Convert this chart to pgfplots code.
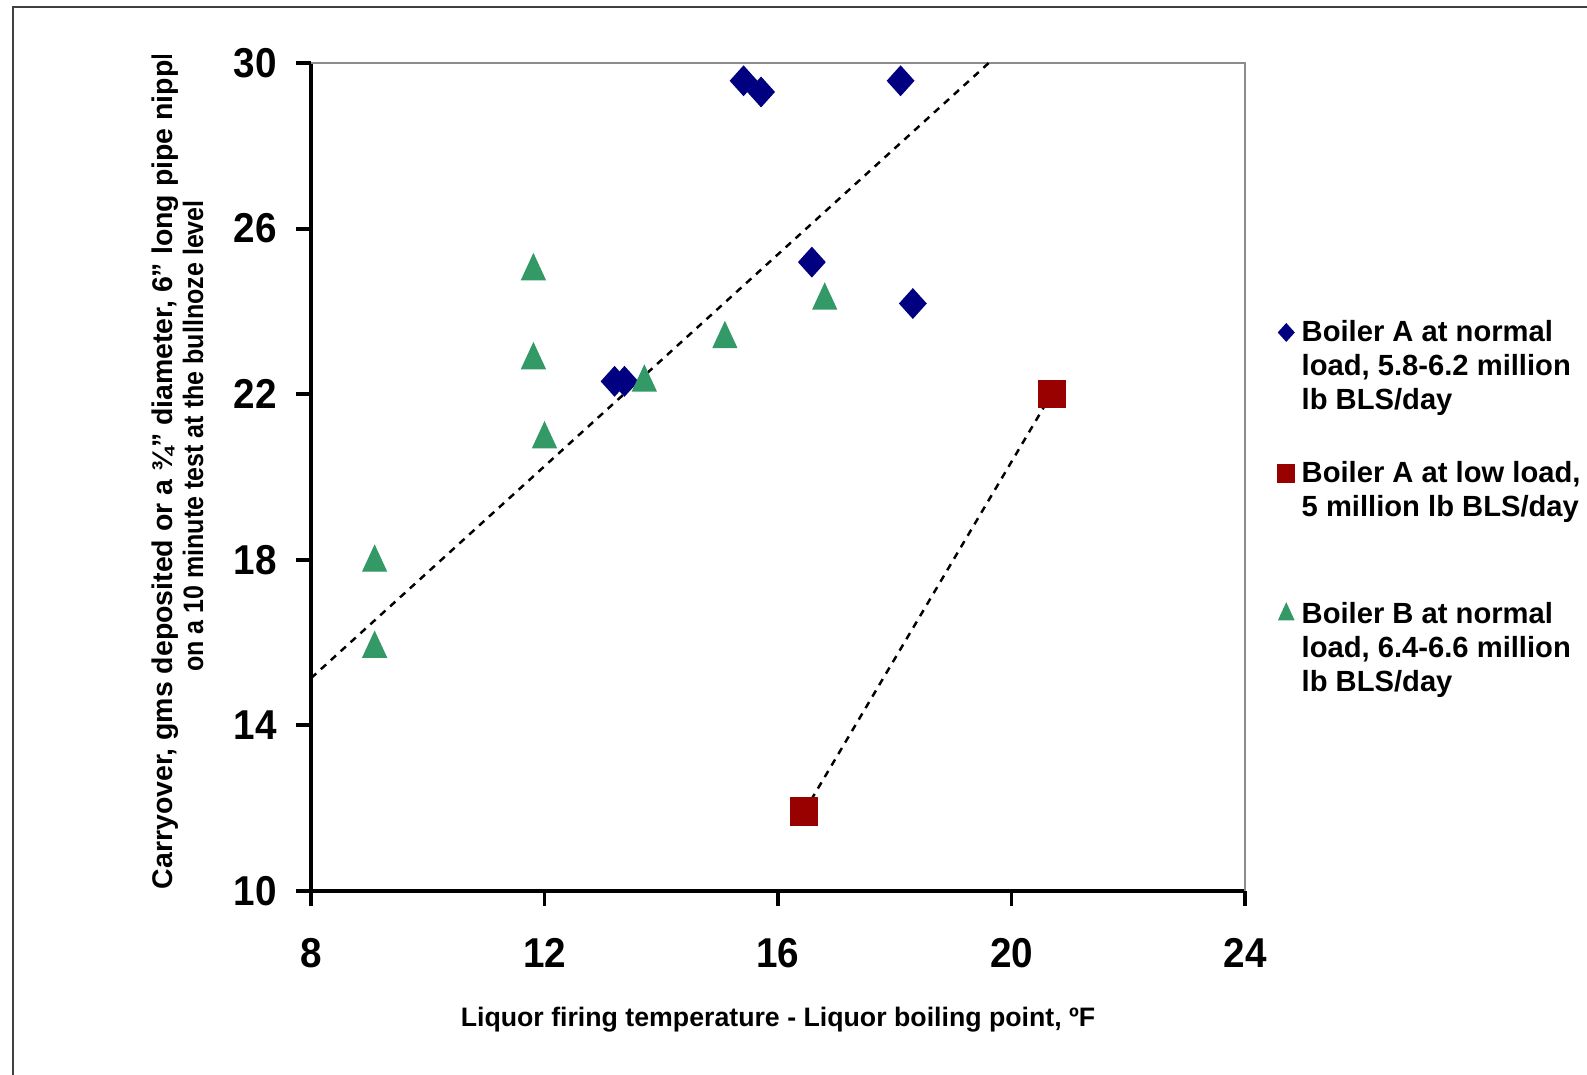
\documentclass[border=0pt]{standalone}
\usepackage{pgfplots}
\pgfplotsset{compat=1.18}
\usepackage{fontspec}
\setmainfont{Liberation Sans}
\definecolor{bluA}{RGB}{0,0,128}
\definecolor{redA}{RGB}{153,0,0}
\definecolor{grnB}{RGB}{51,153,102}

\begin{document}
\begin{tikzpicture}[x=1cm,y=1cm]
\useasboundingbox (0,0) rectangle (15.87,10.75);
\draw[line width=0.7pt, black!75] (0.13,0) -- (0.13,10.68) -- (15.87,10.68);
\begin{axis}[
  at={(3.11cm,1.84cm)}, anchor=south west,
  width=9.34cm, height=8.28cm, scale only axis,
  xmin=8, xmax=24, ymin=10, ymax=30,
  xtick={8,12,16,20,24}, ytick={10,14,18,22,26,30},
  axis x line*=bottom, axis y line*=left,
  axis line style={line width=1.3pt, black},
  tick style={line width=1.1pt, black},
  major tick length=0.15cm, tick align=outside,
  ticklabel style={font=\fontsize{11}{13}\selectfont\bfseries, yscale=1.08},
  xticklabel style={yshift=-5pt},
  yticklabel style={xshift=-2pt},
  /pgf/number format/assume math mode=true,
  xlabel={Liquor firing temperature - Liquor boiling point, ºF},
  xlabel style={at={(axis description cs:0.5,0)}, anchor=center, yshift=-1.29cm, font=\fontsize{7.6}{9}\selectfont\bfseries},
  clip=false,
  legend style={at={(1.0344,0.699)}, anchor=north west, draw=none, fill=none,
    font=\fontsize{8.3}{9.8}\selectfont\bfseries, row sep=9pt, column sep=0pt, inner sep=0pt,
    cells={anchor=west, align=left}},
  legend image code/.code={\draw[mark repeat=2,mark phase=2,#1] plot coordinates {(0cm,0cm) (0.1cm,0cm) (0.2cm,0cm)};},
  legend image post style={yshift=10pt, mark size=2.4pt},
]
\draw[black!45, line width=0.7pt] (rel axis cs:0,1) -- (rel axis cs:1,1) -- (rel axis cs:1,0);
\addplot[black, line width=0.7pt, dash pattern=on 2pt off 1.8pt, forget plot] coordinates {(8,15.14) (19.61,30)};
\addplot[black, line width=0.7pt, dash pattern=on 2pt off 1.8pt, forget plot] coordinates {(16.45,11.92) (20.69,22.01)};
\addplot[only marks, mark=diamond*, mark size=4.1pt, color=bluA, mark options={xscale=1.2, fill=bluA, draw=bluA}] coordinates {
(15.41,29.57) (15.71,29.30) (18.10,29.57) (16.58,25.19) (18.31,24.19) (13.20,22.31) (13.37,22.31)};
\addlegendentry{Boiler A at normal\\load, 5.8-6.2 million\\lb BLS/day}
\addplot[only marks, mark=square*, mark size=3.8pt, color=redA, mark options={fill=redA, draw=redA}] coordinates {
(20.69,22.01) (16.45,11.92)};
\addlegendentry{Boiler A at low load,\\5 million lb BLS/day\\\strut}
\addplot[only marks, mark=triangle*, mark size=3.8pt, color=grnB, mark options={yscale=1.25, fill=grnB, draw=grnB}] coordinates {
(11.81,24.97) (11.81,22.82) (12.00,20.91) (9.09,17.93) (9.09,15.85) (13.71,22.28) (15.09,23.33) (16.80,24.26)};
\addlegendentry{Boiler B at normal\\load, 6.4-6.6 million\\lb BLS/day}
\end{axis}
\begin{scope}
\clip (0,0) rectangle (15.87,10.19);
\node[rotate=90, anchor=west, inner sep=0pt, font=\fontsize{8.1}{8.2}\selectfont\bfseries] at (1.65,1.85)
{Carryover, gms deposited or a ¾" diameter, 6" long pipe nipple};
\end{scope}
\node[rotate=90, anchor=center, inner sep=0pt, font=\fontsize{8}{8.1}\selectfont\bfseries] at (1.93,6.39)
{\scalebox{0.89}[1]{on a 10 minute test at the bullnoze level}};
\end{tikzpicture}
\end{document}
